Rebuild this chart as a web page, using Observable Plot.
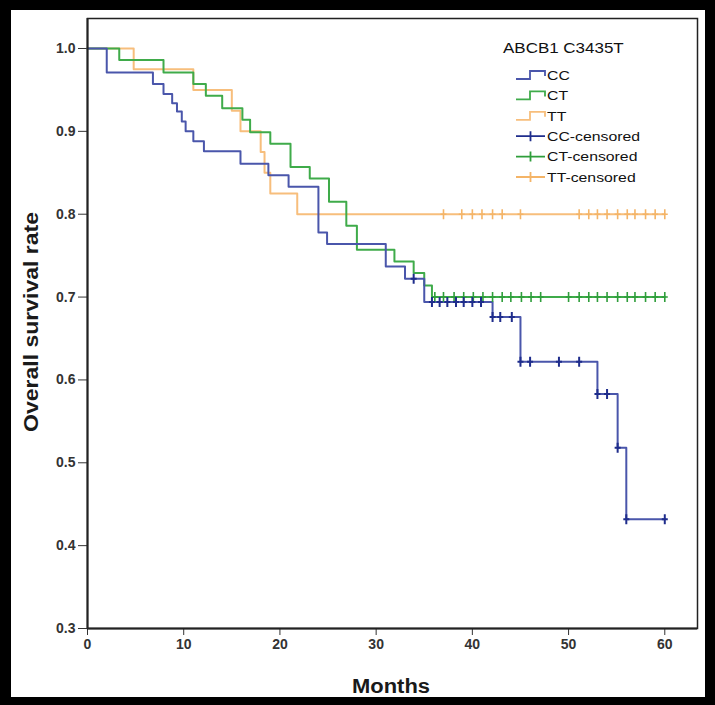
<!DOCTYPE html>
<html>
<head>
<meta charset="utf-8">
<script src="https://cdn.jsdelivr.net/npm/d3@7"></script>
<script src="https://cdn.jsdelivr.net/npm/@observablehq/plot@0.6"></script>
<style>
  html, body { margin: 0; padding: 0; }
  body { background: #000; width: 715px; height: 705px; overflow: hidden; position: relative; font-family: "Liberation Sans", Arial, sans-serif; }
  #panel { position: absolute; left: 11px; top: 10px; width: 694px; height: 687px; background: #fff; }
  #panel svg { position: absolute; left: 0; top: 0; }
</style>
</head>
<body>
<div id="panel"></div>
<script>
// ---------- data ----------
const groups = ["CC", "CT", "TT"];
const legendTitle = "ABCB1 C3435T";
const xLabel = "Months";
const yLabel = "Overall survival rate";
const xTicks = [0, 10, 20, 30, 40, 50, 60];
const yTicks = [0.3, 0.4, 0.5, 0.6, 0.7, 0.8, 0.9, 1.0];

const ccTime = [0, 2.0, 6.8, 7.9, 8.8, 9.3, 9.8, 10.2, 11.0, 12.1, 15.9, 18.8, 20.9, 24.0, 24.9, 31.0, 33.0, 35.0, 42.1, 45.0, 53.0, 55.1, 56.0, 60.0];
const ccSurv = [1.000, 0.971, 0.957, 0.945, 0.934, 0.924, 0.912, 0.900, 0.888, 0.876, 0.861, 0.847, 0.833, 0.778, 0.764, 0.737, 0.722, 0.694, 0.676, 0.622, 0.583, 0.518, 0.432, 0.432];
const ccCensored = [33.9, 35.8, 36.6, 37.4, 38.3, 39.1, 40.0, 40.9, 42.1, 42.9, 44.1, 45.0, 46.0, 49.0, 51.1, 53.0, 54.0, 55.1, 56.0, 60.0];

const ctTime = [0, 3.3, 7.9, 11.0, 12.3, 14.0, 16.1, 16.9, 19.0, 21.1, 23.1, 25.1, 26.9, 28.0, 31.9, 33.9, 35.0, 35.8, 60.0];
const ctSurv = [1.000, 0.986, 0.971, 0.957, 0.943, 0.928, 0.914, 0.899, 0.885, 0.857, 0.843, 0.815, 0.786, 0.757, 0.743, 0.729, 0.714, 0.700, 0.700];
const ctCensored = [36.1, 37.0, 38.1, 39.1, 40.1, 41.1, 42.1, 43.1, 44.0, 45.1, 46.1, 47.1, 50.0, 51.1, 52.1, 53.0, 54.0, 55.1, 56.1, 56.9, 58.0, 59.0, 60.0];

const ttTime = [0, 4.8, 11.0, 15.0, 15.9, 18.0, 18.4, 19.0, 21.8, 60.0];
const ttSurv = [1.000, 0.975, 0.950, 0.925, 0.900, 0.875, 0.850, 0.825, 0.800, 0.800];
const ttCensored = [37.0, 38.9, 40.0, 41.0, 42.1, 43.1, 45.0, 51.1, 52.1, 53.0, 54.0, 55.1, 56.1, 56.9, 58.0, 59.0, 60.0];

// ---------- styles ----------
const lineColors = { CC: "#4a56ab", CT: "#3fab4a", TT: "#f7be7c" };
const censorColors = { CC: "#1f2d8c", CT: "#2f9e3b", TT: "#f4b467" };

const series = [
  { key: "TT", time: ttTime, surv: ttSurv, cens: ttCensored },
  { key: "CT", time: ctTime, surv: ctSurv, cens: ctCensored },
  { key: "CC", time: ccTime, surv: ccSurv, cens: ccCensored }
];

function stepAt(times, survs, t) {
  let v = survs[0];
  for (let i = 0; i < times.length; i++) if (times[i] <= t + 1e-9) v = survs[i];
  return v;
}

const censorTick = {
  draw(ctx, size) {
    const r = Math.sqrt(size / Math.PI);
    ctx.moveTo(0, -r); ctx.lineTo(0, r);
    ctx.moveTo(-r * 0.6, 0); ctx.lineTo(r * 0.6, 0);
  }
};

const marks = [];
for (const s of series) {
  const rows = s.time.map((t, i) => ({ month: t, surv: s.surv[i] }));
  marks.push(Plot.line(rows, { x: "month", y: "surv", curve: "step-after", stroke: lineColors[s.key], strokeWidth: 2 }));
}
for (const s of series) {
  const rows = s.cens.map(t => ({ month: t, surv: stepAt(s.time, s.surv, t) }));
  marks.push(Plot.dot(rows, { x: "month", y: "surv", symbol: censorTick, r: 5, fill: "none", stroke: censorColors[s.key], strokeWidth: s.key === "CC" ? 2 : 1.6 }));
}
marks.push(Plot.frame({ stroke: "#222", strokeWidth: 1.5 }));
marks.push(Plot.ruleX([0], { stroke: "#222", strokeWidth: 2 }));
marks.push(Plot.ruleY([0.3], { stroke: "#222", strokeWidth: 2 }));

const W = 694, H = 687;
const svg = Plot.plot({
  width: W,
  height: H,
  marginLeft: 76,
  marginRight: 8,
  marginTop: 8,
  marginBottom: 69,
  style: { background: "transparent", fontFamily: "'Liberation Sans', Arial, sans-serif", fontSize: "14px", fontWeight: "bold", color: "#333", overflow: "visible" },
  x: { domain: [0, 63.4], ticks: xTicks, tickFormat: d => String(d), tickSize: 7, tickPadding: 4, label: null },
  y: { domain: [0.3, 1.0362], ticks: yTicks, tickFormat: d => d.toFixed(1), tickSize: 9, tickPadding: 3, label: null },
  marks
});
document.getElementById("panel").appendChild(svg);

// ---------- axis titles and legend ----------
const root = d3.select(svg);
root.append("text")
  .attr("x", 380).attr("y", 683)
  .attr("text-anchor", "middle")
  .attr("textLength", 78).attr("lengthAdjust", "spacingAndGlyphs")
  .style("font-size", "20px").style("font-weight", "bold").style("fill", "#1a1a1a")
  .text(xLabel);
root.append("text")
  .attr("transform", "translate(27,312) rotate(-90)")
  .attr("text-anchor", "middle")
  .attr("textLength", 220).attr("lengthAdjust", "spacingAndGlyphs")
  .style("font-size", "20px").style("font-weight", "bold").style("fill", "#1a1a1a")
  .text(yLabel);

function stretch(sel, k) {
  const n = sel.node();
  const len = n.getComputedTextLength();
  if (len > 0) sel.attr("textLength", len * k).attr("lengthAdjust", "spacingAndGlyphs");
}

const lg = root.append("g").attr("transform", "translate(492,0)").attr("text-anchor", "start");
const title = lg.append("text").attr("x", 0).attr("y", 43)
  .attr("text-anchor", "start")
  .style("font-size", "14.5px").style("font-weight", "normal").style("fill", "#111")
  .text(legendTitle);
stretch(title, 1.17);
const legendItems = [
  ...groups.map(g => ({ label: g, type: "line", color: lineColors[g] })),
  ...groups.map(g => ({ label: g + "-censored", type: "cens", color: censorColors[g] }))
];
legendItems.forEach((it, i) => {
  const cy = 65 + i * 20.4;
  const gx = 13;
  if (it.type === "line") {
    lg.append("path")
      .attr("d", `M${gx},${cy + 4}H${gx + 14}V${cy - 4}H${gx + 29}V${cy + 1}`)
      .attr("fill", "none").attr("stroke", it.color).attr("stroke-width", 1.8);
  } else {
    lg.append("path")
      .attr("d", `M${gx},${cy}H${gx + 29}M${gx + 14.5},${cy - 5}V${cy + 5}`)
      .attr("fill", "none").attr("stroke", it.color).attr("stroke-width", 1.8);
  }
  const t = lg.append("text").attr("x", gx + 31).attr("y", cy + 4.8)
    .attr("text-anchor", "start")
    .style("font-size", "13.5px").style("font-weight", "normal").style("fill", "#111")
    .text(it.label);
  stretch(t, 1.17);
});
</script>
</body>
</html>
